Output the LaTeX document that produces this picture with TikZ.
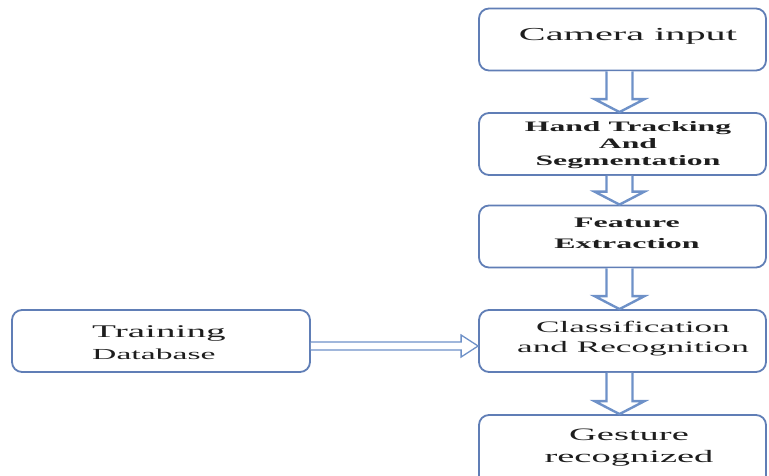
\documentclass[tikz,border=0pt]{standalone}
\usepackage{fontspec}
\setmainfont{Liberation Serif}
\newfontfamily\wf[FakeStretch=2.2]{Liberation Serif}
\usetikzlibrary{calc}
\definecolor{boxline}{RGB}{96,126,182}
\definecolor{arrline}{RGB}{110,145,200}
\definecolor{txt}{RGB}{30,30,30}
\tikzset{
  flowbox/.style={draw=boxline, line width=1.8pt, rounded corners=10pt, fill=white, minimum height=62pt, inner sep=0pt},
  flowtext/.style={text=txt, align=center, anchor=base, inner sep=0pt},
  flowarrow/.style={draw=arrline, line width=2.4pt, fill=white, line join=miter},
  sidearrow/.style={draw=arrline, line width=1.3pt, fill=white, line join=miter}
}
\newcommand\vflow[2]{%
  \draw[flowarrow] ($(#1.south)+(-16,0)$) -- ($(#2.north)+(-16,-13)$) -- ($(#2.north)+(-28,-13)$)
    -- ($(#2.north)+(-3,0)$) -- ($(#2.north)+(22,-13)$) -- ($(#2.north)+(10,-13)$)
    -- ($(#1.south)+(10,0)$);}
\begin{document}
\begin{tikzpicture}[x=1pt,y=-1pt]
\useasboundingbox (0,0) rectangle (769,475);
\clip (0,0) rectangle (769,475);
% boxes
\node[flowbox, minimum width=287pt] (cam)   at (622.5,39.5) {};
\node[flowbox, minimum width=287pt] (hand)  at (622.5,144) {};
\node[flowbox, minimum width=287pt] (feat)  at (622.5,236.5) {};
\node[flowbox, minimum width=287pt] (cls)   at (622.5,341) {};
\node[flowbox, minimum width=287pt, minimum height=72pt] (gest)  at (622.5,451) {};
\node[flowbox, minimum width=298pt] (train) at (161,341) {};
% vertical arrows
\vflow{cam}{hand}
\vflow{hand}{feat}
\vflow{feat}{cls}
\vflow{cls}{gest}
% horizontal arrow
\draw[sidearrow] ($(train.east)+(0,1)$) -- ($(cls.west)+(-17,1)$) -- ($(cls.west)+(-17,-6)$)
  -- ($(cls.west)+(0,5)$) -- ($(cls.west)+(-17,16)$) -- ($(cls.west)+(-17,9)$) -- ($(train.east)+(0,9)$);
% texts
\node[flowtext, font=\wf\fontsize{18.3}{20}\selectfont] (tcam) at (628,40.7) {Camera input};
\node[flowtext, font=\wf\bfseries\fontsize{14.4}{17}\selectfont] (thand) at (628,165) {Hand Tracking\\And\\Segmentation};
\node[flowtext, font=\wf\bfseries\fontsize{14.5}{21}\selectfont] (tfeat) at (627,248) {Feature\\Extraction};
\node[flowtext, font=\wf\fontsize{16}{20}\selectfont] (tcls) at (633,352) {Classification\\and Recognition};
\node[flowtext, font=\wf\fontsize{17.5}{22}\selectfont] (tgest) at (629,462) {Gesture\\recognized};
\node[text=txt, inner sep=0pt, anchor=base west, font=\wf\fontsize{17.8}{20}\selectfont] (ttrain) at (92,337) {Training};
\node[text=txt, inner sep=0pt, anchor=base west, font=\wf\fontsize{15.3}{20}\selectfont] (tdb) at (92,359) {Database};
\end{tikzpicture}
\end{document}
